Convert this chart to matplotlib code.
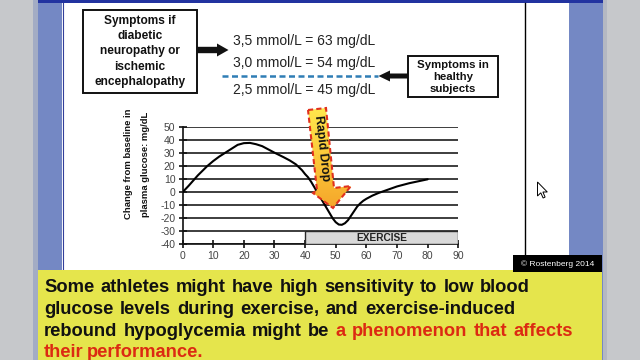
import numpy as np
import matplotlib
matplotlib.use("Agg")
import matplotlib.pyplot as plt
from matplotlib.patches import Rectangle, Polygon
from matplotlib.colors import LinearSegmentedColormap

plt.rcParams["axes.unicode_minus"] = False

# ---------------- data ----------------
time_min = [0, 2, 5, 8, 10, 12, 15, 18, 20, 22, 24, 26, 28, 30, 33, 35, 37, 39, 40, 41, 42, 43, 44, 45,
            46, 47, 48, 49, 50, 51, 52, 53, 54, 55, 56, 57, 58, 59, 60, 62, 64, 67, 70, 74, 77, 80]
glucose_change = [0, 5, 13, 20, 24, 27.5, 32, 36.5, 37.8, 38, 37, 35.5, 33, 30.5, 27, 24.5, 21.5, 17, 14,
                  11.5, 8, 4, 0, -4, -8, -12, -16, -20, -23, -24.8, -25, -23.8, -21.5, -18, -14.5, -11,
                  -8.5, -6.5, -5, -2.5, -0.5, 2, 4.5, 7, 8.5, 10]
x_ticks = [0, 10, 20, 30, 40, 50, 60, 70, 80, 90]
y_ticks = [-40, -30, -20, -10, 0, 10, 20, 30, 40, 50]
exercise_span = [40, 90]
exercise_label = "EXERCISE"
y_label_lines = ["Change from baseline in", "plasma glucose: mg/dL"]
thresholds = ["3,5 mmol/L = 63 mg/dL", "3,0 mmol/L = 54 mg/dL", "2,5 mmol/L = 45 mg/dL"]
box_left_lines = ["Symptoms if", "diabetic", "neuropathy or", "ischemic", "encephalopathy"]
box_right_lines = ["Symptoms in", "healthy", "subjects"]
arrow_label = "Rapid Drop"
copyright_text = "\u00a9 Rostenberg 2014"
caption_line1 = "Some athletes might have high sensitivity to low blood"
caption_line2 = "glucose levels during exercise, and exercise-induced"
caption_line3_black = "rebound hypoglycemia might be"
caption_line3_red = "a phenomenon that affects"
caption_line4_red = "their performance."

FONT = "Liberation Sans"
BLACK = "#111111"
RED = "#dc2a12"

fig = plt.figure(figsize=(6.4, 3.6), dpi=100)
fig.patch.set_facecolor("#c6c8cb")

# background axes in pixel coordinates
bg = fig.add_axes([0, 0, 1, 1], zorder=0)
bg.set_xlim(0, 640); bg.set_ylim(360, 0); bg.axis("off")

# slide (blue) background
bg.add_patch(Rectangle((33, 0), 6, 360, facecolor="#a3acc4", edgecolor="none"))
bg.add_patch(Rectangle((38, 0), 565, 360, facecolor="#7488c4", edgecolor="none"))
bg.add_patch(Rectangle((603, 0), 4, 360, facecolor="#b4b8c2", edgecolor="none"))
bg.add_patch(Rectangle((38, 0), 565, 3, facecolor="#2233a0", edgecolor="none"))
# white panel
bg.add_patch(Rectangle((62, 3), 507, 267, facecolor="white", edgecolor="none"))
bg.plot([62.5, 62.5], [3, 270], color="#33409a", lw=0.8)
bg.plot([524.5, 524.5], [3, 270], color="black", lw=1.0)

# top diagram boxes
bg.add_patch(Rectangle((83, 9.5), 114, 83, facecolor="white", edgecolor=BLACK, lw=1.4))
for i, s in enumerate(box_left_lines):
    bg.text(140, 21 + i * 15.2, s, ha="center", va="center", fontsize=8.6,
            fontweight="bold", family=FONT, color=BLACK)
bg.add_patch(Rectangle((408, 55.5), 90, 41, facecolor="white", edgecolor=BLACK, lw=1.4))
for i, s in enumerate(box_right_lines):
    bg.text(453, 65.5 + i * 12.0, s, ha="center", va="center", fontsize=8.2,
            fontweight="bold", family=FONT, color=BLACK)

# arrows
bg.add_patch(Polygon([(197, 46.8), (217, 46.8), (217, 43.5), (228.5, 50), (217, 56.5),
                      (217, 53.2), (197, 53.2)], closed=True, facecolor=BLACK, edgecolor="none"))
bg.add_patch(Polygon([(408, 73.5), (390, 73.5), (390, 70.5), (378.5, 76), (390, 81.5),
                      (390, 78.5), (408, 78.5)], closed=True, facecolor=BLACK, edgecolor="none"))
bg.plot([222, 378], [76, 76], color="#2f7db5", lw=1.8, linestyle=(0, (2.4, 1.4)))

for s, y in zip(thresholds, [40.7, 62.7, 90]):
    bg.text(233, y, s, ha="left", va="center", fontsize=10, family=FONT, color="#222222")

# y label
for s, x in zip(y_label_lines, [128.5, 145]):
    bg.text(x, 164, s, ha="center", va="center", rotation=90, fontsize=6.8,
            fontweight="bold", family=FONT, color=BLACK)

# ---------------- chart axes ----------------
x0p, x1p, ytp, ybp = 182.5, 458.3, 127.3, 244.3
ax = fig.add_axes([x0p / 640, 1 - ybp / 360, (x1p - x0p) / 640, (ybp - ytp) / 360], zorder=1)
ax.set_facecolor("none")
ax.set_xlim(0, 90); ax.set_ylim(-40, 50)
ax.set_xticks(x_ticks); ax.set_yticks(y_ticks)
for y in y_ticks:
    ax.axhline(y, color="#1c1c1c", lw=1.2, zorder=1)
for side in ["top", "right"]:
    ax.spines[side].set_visible(False)
for side in ["left", "bottom"]:
    ax.spines[side].set_linewidth(1.2)
    ax.spines[side].set_color("#111111")
ax.tick_params(axis="both", direction="inout", length=5.8, width=1.2, color="#111111",
               labelsize=7.5, labelcolor="#444444")
ax.tick_params(axis="y", pad=2.2)
ax.tick_params(axis="x", pad=2.0)
for lab in ax.get_xticklabels() + ax.get_yticklabels():
    lab.set_family(FONT)

ax.add_patch(Rectangle((exercise_span[0], -40), exercise_span[1] - exercise_span[0], 10,
                       facecolor="#d9d9d9", edgecolor="#2a2a2a", lw=1.0, zorder=3))
ax.text(sum(exercise_span) / 2, -35, exercise_label, ha="center", va="center",
        fontsize=7.3, fontweight="bold", family=FONT, color="#222222", zorder=4)
ax.plot(time_min, glucose_change, color="black", lw=1.5, zorder=5,
        solid_joinstyle="round", solid_capstyle="round")

# ---------------- overlay (arrow, caption) ----------------
ov = fig.add_axes([0, 0, 1, 1], zorder=5)
ov.set_facecolor("none"); ov.axis("off")

arrow_pts = [(308, 110), (326, 108), (334, 188), (351, 186), (333, 208), (313, 193), (317, 190)]
cmap = LinearSegmentedColormap.from_list("drop", ["#ffe94e", "#fcc93a", "#f5a52a"])
grad = np.linspace(0, 1, 100).reshape(-1, 1)
im = ov.imshow(grad, extent=(305, 355, 210, 105), cmap=cmap, aspect="auto", zorder=11)
poly = Polygon(arrow_pts, closed=True, facecolor="none", edgecolor="#e0301e", lw=1.5,
               linestyle=(0, (2.5, 1.5)), zorder=12)
ov.add_patch(poly)
im.set_clip_path(poly)
ov.text(322, 148, arrow_label, ha="center", va="center", rotation=-83.6, rotation_mode="anchor",
        fontsize=8.8, fontweight="bold", family=FONT, color=BLACK, zorder=13)

# yellow caption box
ov.add_patch(Rectangle((38, 270), 564, 90, facecolor="#e5e54c", edgecolor="none", zorder=1))
ov.add_patch(Rectangle((513, 255), 89, 17, facecolor="black", edgecolor="none", zorder=2))
ov.text(557.5, 264, copyright_text, ha="center", va="center", fontsize=6, family=FONT,
        color="white", zorder=3)

ov.set_xlim(0, 640); ov.set_ylim(360, 0)

caption = [
    ([(w, BLACK) for w in caption_line1.split()], 291.5, 530),
    ([(w, BLACK) for w in caption_line2.split()], 313.5, 515),
    ([(w, BLACK) for w in caption_line3_black.split()] + [(w, RED) for w in caption_line3_red.split()], 335.5, 573),
    ([(w, RED) for w in caption_line4_red.split()], 357, 203),
]
renderer = fig.canvas.get_renderer()
x_start = 44
cap_kw = dict(va="baseline", fontsize=13.2, fontweight="bold", family=FONT, zorder=5)
for words, yb, x_end in caption:
    items = []
    for w, c in words:
        core, tail = (w[:-1], w[-1]) if w.endswith(",") else (w, "")
        t = ov.text(0, yb, core, ha="left", color=c, **cap_kw)
        tt = ov.text(0, yb, tail, ha="left", color=c, **cap_kw) if tail else None
        wd = t.get_window_extent(renderer).width
        wt = tt.get_window_extent(renderer).width if tt else 0
        items.append((t, tt, wd, wt))
    total = sum(i[2] + i[3] for i in items)
    gap = (x_end - x_start - total) / max(len(items) - 1, 1)
    x = x_start
    for t, tt, wd, wt in items:
        t.set_x(x)
        if tt is not None:
            tt.set_x(x + wd)
        x += wd + wt + gap

# mouse cursor
cx, cy = 537.5, 182
cur = [(0, 0), (0, 14), (3.3, 10.8), (5.6, 16), (7.6, 15.1), (5.4, 10), (9.8, 10)]
ov.add_patch(Polygon([(cx + a, cy + b) for a, b in cur], closed=True, facecolor="white",
                     edgecolor="black", lw=0.7, zorder=6))

fig.savefig("out.png", dpi=100)
